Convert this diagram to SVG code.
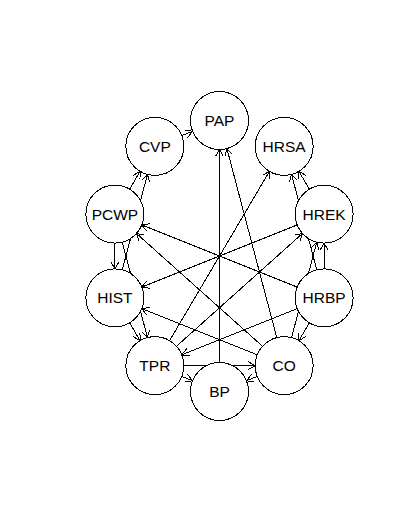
<svg xmlns="http://www.w3.org/2000/svg" width="402" height="532" viewBox="0 0 402 532" shape-rendering="crispEdges">
<defs>
<marker id="ah" markerUnits="userSpaceOnUse" markerWidth="12" markerHeight="12" viewBox="-10 -6 12 12" refX="0" refY="0" orient="auto" overflow="visible">
<path d="M -7 -4 L 0 0 L -7 4" fill="none" stroke="#000" stroke-width="1"/>
</marker>
</defs>
<style>
.e{stroke:#000;stroke-width:1;fill:none;marker-end:url(#ah)}
.n circle{fill:#fff;stroke:#000;stroke-width:1}
.n text{font-family:"Liberation Sans",Arial,sans-serif;font-size:15.5px;fill:#000;text-anchor:middle}
</style>
<rect width="402" height="532" fill="#fff"/>
<g id="edges">
<line class="e" x1="181.76" y1="135.6" x2="192.58" y2="131.28"/>
<line class="e" x1="219.5" y1="362.5" x2="219.5" y2="149.5"/>
<line class="e" x1="276.76" y1="337.58" x2="226.9" y2="148.54"/>
<line class="e" x1="129.61" y1="189.15" x2="140.11" y2="171.36"/>
<line class="e" x1="122.28" y1="269.83" x2="147.44" y2="174.42"/>
<line class="e" x1="114.88" y1="243.13" x2="114.88" y2="268.87"/>
<line class="e" x1="297.2" y1="287.09" x2="141.8" y2="224.91"/>
<line class="e" x1="262.55" y1="346.28" x2="136.49" y2="233.47"/>
<line class="e" x1="297.2" y1="224.91" x2="141.8" y2="287.09"/>
<line class="e" x1="257.24" y1="354.84" x2="141.8" y2="308.65"/>
<line class="e" x1="129.61" y1="322.85" x2="140.11" y2="340.64"/>
<line class="e" x1="122.28" y1="242.17" x2="147.44" y2="337.58"/>
<line class="e" x1="169.57" y1="340.64" x2="269.43" y2="171.36"/>
<line class="e" x1="176.45" y1="346.28" x2="302.51" y2="233.47"/>
<line class="e" x1="297.2" y1="308.65" x2="181.76" y2="354.84"/>
<line class="e" x1="183.84" y1="365.62" x2="255.16" y2="365.62"/>
<line class="e" x1="181.76" y1="376.4" x2="192.58" y2="380.72"/>
<line class="e" x1="257.24" y1="376.4" x2="246.42" y2="380.72"/>
<line class="e" x1="309.39" y1="189.15" x2="298.89" y2="171.36"/>
<line class="e" x1="316.72" y1="269.83" x2="291.56" y2="174.42"/>
<line class="e" x1="324.12" y1="268.87" x2="324.12" y2="243.13"/>
<line class="e" x1="291.56" y1="337.58" x2="316.72" y2="242.17"/>
<line class="e" x1="309.39" y1="322.85" x2="298.89" y2="340.64"/>
</g>
<g id="PAP" class="n"><circle cx="219.5" cy="120.5" r="29"/><text x="219.5" y="126">PAP</text></g>
<g id="HRSA" class="n"><circle cx="284.16" cy="146.38" r="29"/><text x="284.16" y="151.9">HRSA</text></g>
<g id="HREK" class="n"><circle cx="324.12" cy="214.13" r="29"/><text x="324.12" y="219.6">HREK</text></g>
<g id="HRBP" class="n"><circle cx="324.12" cy="297.87" r="29"/><text x="324.12" y="303.4">HRBP</text></g>
<g id="CO" class="n"><circle cx="284.16" cy="365.62" r="29"/><text x="284.16" y="371.1">CO</text></g>
<g id="BP" class="n"><circle cx="219.5" cy="391.5" r="29"/><text x="219.5" y="397">BP</text></g>
<g id="TPR" class="n"><circle cx="154.84" cy="365.62" r="29"/><text x="154.84" y="371.1">TPR</text></g>
<g id="HIST" class="n"><circle cx="114.88" cy="297.87" r="29"/><text x="114.88" y="303.4">HIST</text></g>
<g id="PCWP" class="n"><circle cx="114.88" cy="214.13" r="29"/><text x="114.88" y="219.6">PCWP</text></g>
<g id="CVP" class="n"><circle cx="154.84" cy="146.38" r="29"/><text x="154.84" y="151.9">CVP</text></g>
</svg>
